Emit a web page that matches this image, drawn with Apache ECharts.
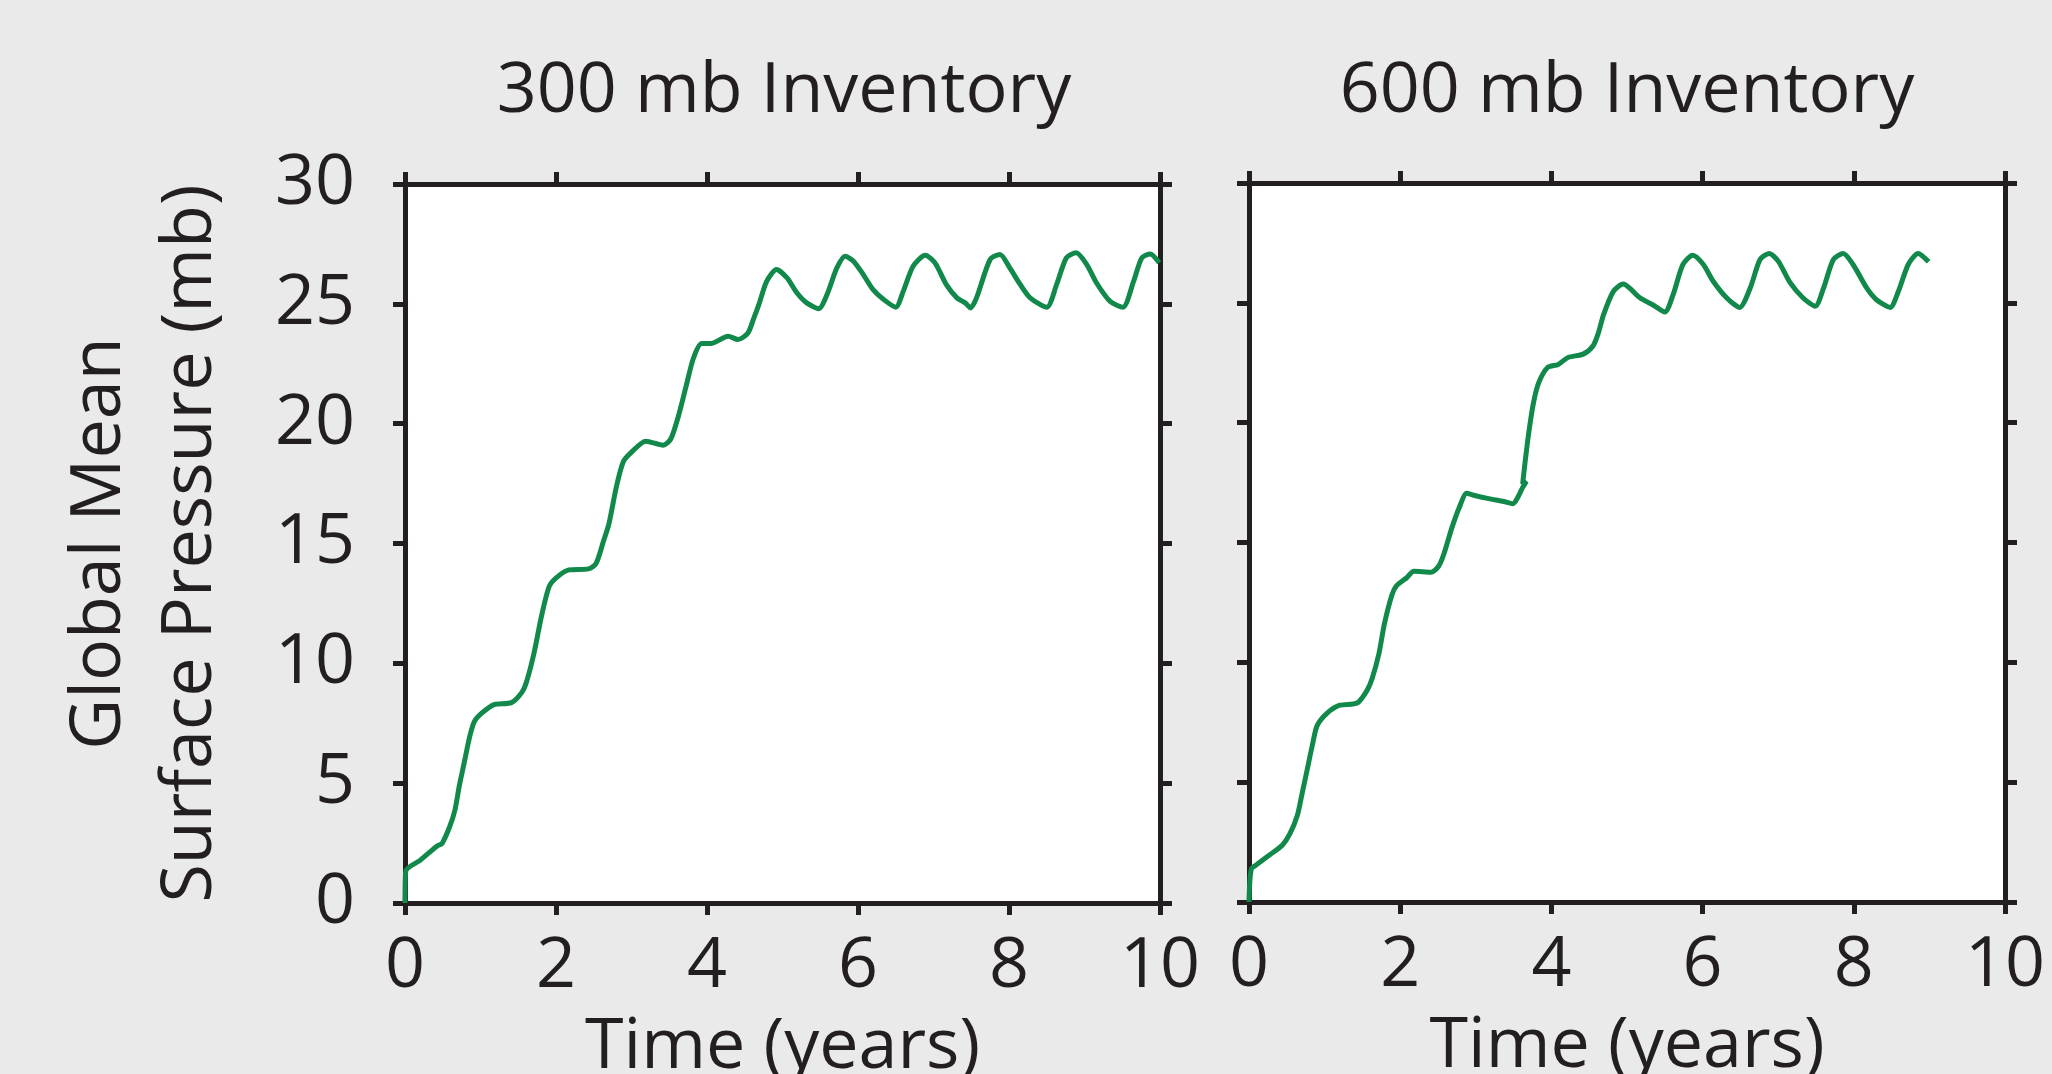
<!DOCTYPE html>
<html>
<head>
<meta charset="utf-8">
<script src="https://cdn.jsdelivr.net/npm/echarts@6/dist/echarts.min.js"></script>
<style>
html,body{margin:0;padding:0;background:#eaeaea;}
#chart{width:2052px;height:1074px;}
</style>
</head>
<body>
<div id="chart"></div>
<script>
// ---- data ----
const panelTitles = ['300 mb Inventory', '600 mb Inventory'];
const xTicks = [0, 2, 4, 6, 8, 10];
const yTicks = [0, 5, 10, 15, 20, 25, 30];
const xAxisTitle = 'Time (years)';
const yAxisTitle = 'Global Mean\nSurface Pressure (mb)';

const time300 = [0.00,0.01,0.20,0.43,0.49,0.59,0.66,0.72,0.79,0.86,0.92,1.02,1.18,1.41,1.55,1.61,1.71,1.81,1.91,2.01,2.17,2.43,2.53,2.63,2.70,2.80,2.89,2.99,3.19,3.42,3.52,3.62,3.72,3.82,3.93,4.05,4.28,4.41,4.54,4.62,4.69,4.79,4.92,5.06,5.19,5.32,5.48,5.59,5.72,5.83,5.94,6.07,6.20,6.34,6.50,6.60,6.73,6.89,7.02,7.17,7.31,7.42,7.49,7.57,7.75,7.88,8.01,8.15,8.28,8.50,8.63,8.76,8.89,9.03,9.16,9.34,9.51,9.65,9.76,9.87,9.99];
const press300 = [0.0,1.33,1.78,2.39,2.48,3.17,3.86,4.9,5.94,6.98,7.58,7.93,8.28,8.36,8.8,9.23,10.44,12.0,13.21,13.59,13.9,13.94,14.16,15.11,15.81,17.37,18.4,18.78,19.27,19.1,19.36,20.3,21.52,22.73,23.34,23.34,23.65,23.51,23.77,24.4,25.0,25.94,26.43,26.08,25.46,25.04,24.8,25.39,26.5,26.99,26.78,26.22,25.59,25.18,24.86,25.53,26.57,27.03,26.71,25.8,25.25,25.04,24.83,25.25,26.85,27.06,26.5,25.8,25.25,24.86,25.8,26.92,27.13,26.64,25.87,25.1,24.86,25.94,26.92,27.08,26.71];

const time600 = [0.00,0.03,0.11,0.28,0.44,0.54,0.64,0.70,0.77,0.84,0.90,1.03,1.20,1.43,1.56,1.63,1.72,1.79,1.89,1.95,2.09,2.18,2.41,2.51,2.58,2.68,2.78,2.88,2.97,3.17,3.37,3.49,3.57,3.62,3.67,3.62,3.65,3.70,3.76,3.83,3.95,4.09,4.22,4.42,4.55,4.62,4.69,4.82,4.95,5.17,5.35,5.50,5.61,5.74,5.87,6.01,6.14,6.32,6.49,6.63,6.76,6.88,7.00,7.16,7.33,7.49,7.60,7.73,7.86,7.99,8.17,8.30,8.48,8.59,8.72,8.85,8.99];
const press600 = [0.0,1.37,1.58,1.98,2.37,2.84,3.62,4.49,5.53,6.57,7.35,7.87,8.21,8.3,8.82,9.34,10.38,11.59,12.81,13.19,13.54,13.8,13.76,14.02,14.54,15.58,16.45,17.05,16.97,16.83,16.71,16.62,16.97,17.3,17.55,17.45,18.3,19.57,20.78,21.65,22.3,22.43,22.72,22.86,23.2,23.73,24.51,25.48,25.79,25.21,24.9,24.62,25.34,26.6,26.99,26.6,25.9,25.2,24.81,25.62,26.81,27.06,26.74,25.83,25.2,24.86,25.62,26.81,27.06,26.6,25.62,25.13,24.81,25.48,26.6,27.06,26.71];

// ---- styling ----
const FONT = "'Open Sans', 'Noto Sans', sans-serif";
const INK = '#231f20';
const GREEN = '#10894a';
const FS = 70;

const pairs = (xs, ys) => xs.map((x, i) => [x, ys[i]]);

const xMin = xTicks[0], xMax = xTicks[xTicks.length - 1], xStep = xTicks[1] - xTicks[0];
const yMin = yTicks[0], yMax = yTicks[yTicks.length - 1], yStep = yTicks[1] - yTicks[0];

const lineStyle = {color: INK, width: 5};
function axisBase(extra) {
  return Object.assign({
    type: 'value',
    axisLine: {show: true, onZero: false, lineStyle},
    axisTick: {show: true, inside: false, length: 12, lineStyle},
    splitLine: {show: false},
    axisLabel: {show: false}
  }, extra);
}
const tickLabel = (margin) => ({
  show: true, color: INK, fontFamily: FONT, fontSize: FS, lineHeight: FS, margin: margin
});

const grids = [
  {left: 405, top: 184, width: 755, height: 719},
  {left: 1249, top: 183, width: 756, height: 719}
].map(g => Object.assign(g, {show: true, backgroundColor: '#ffffff', borderWidth: 0, containLabel: false, outerBoundsMode: 'none'}));

const xAxes = [], yAxes = [];
[0, 1].forEach(gi => {
  xAxes.push(axisBase({
    gridIndex: gi, position: 'bottom', min: xMin, max: xMax, interval: xStep,
    axisLabel: tickLabel(29),
    name: xAxisTitle, nameLocation: 'middle', nameGap: 110,
    nameTextStyle: {color: INK, fontFamily: FONT, fontSize: FS, lineHeight: FS}
  }));
  xAxes.push(axisBase({gridIndex: gi, position: 'top', min: xMin, max: xMax, interval: xStep}));
  const left = axisBase({gridIndex: gi, position: 'left', min: yMin, max: yMax, interval: yStep});
  if (gi === 0) {
    left.axisLabel = tickLabel(50);
    left.name = yAxisTitle;
    left.nameLocation = 'middle';
    left.nameRotate = 90;
    left.nameGap = 168;
    left.nameTextStyle = {color: INK, fontFamily: FONT, fontSize: FS, lineHeight: 91};
  }
  yAxes.push(left);
  yAxes.push(axisBase({gridIndex: gi, position: 'right', min: yMin, max: yMax, interval: yStep}));
});

const chart = echarts.init(document.getElementById('chart'), null, {renderer: 'canvas'});
chart.setOption({
  animation: false,
  backgroundColor: '#eaeaea',
  title: panelTitles.map((t, i) => ({
    text: t,
    left: i === 0 ? 784 : 1627,
    top: 57,
    textAlign: 'center',
    padding: 0,
    textStyle: {color: INK, fontFamily: FONT, fontSize: FS, fontWeight: 'normal', lineHeight: FS}
  })),
  grid: grids,
  xAxis: xAxes,
  yAxis: yAxes,
  series: [
    {type: 'line', xAxisIndex: 0, yAxisIndex: 0, data: pairs(time300, press300), smooth: 0.25,
     showSymbol: false, symbol: 'none', clip: true, lineStyle: {color: GREEN, width: 5}},
    {type: 'line', xAxisIndex: 2, yAxisIndex: 2, data: pairs(time600, press600), smooth: 0.25,
     showSymbol: false, symbol: 'none', clip: true, lineStyle: {color: GREEN, width: 5}}
  ]
});
</script>
</body>
</html>
